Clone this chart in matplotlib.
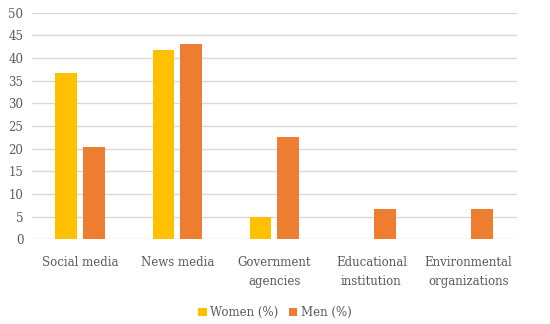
import matplotlib
matplotlib.use("Agg")
import matplotlib.pyplot as plt
import numpy as np

matplotlib.rcParams["font.family"] = "serif"
matplotlib.rcParams["font.serif"] = ["DejaVu Serif"]

categories = ["Social media", "News media", "Government\nagencies",
              "Educational\ninstitution", "Environmental\norganizations"]
women = [36.6, 41.7, 5.0, 0, 0]
men = [20.4, 43.2, 22.6, 6.7, 6.7]
yticks = [0, 5, 10, 15, 20, 25, 30, 35, 40, 45, 50]

text_color = "#595959"

fig = plt.figure(figsize=(5.5, 3.24), dpi=100)
ax = fig.add_axes([0.0576, 0.2614, 0.8824, 0.6994])

x = np.arange(len(categories))
w = 0.224
off = 0.143
ax.bar(x - off, women, w, color="#FFC000", label="Women (%)", zorder=3)
ax.bar(x + off, men, w, color="#ED7D31", label="Men (%)", zorder=3)

ax.set_xlim(-0.5, len(categories) - 0.5)
ax.set_ylim(0, 50)
ax.set_yticks(yticks)
ax.set_xticks(x)
ax.set_xticklabels(categories, linespacing=1.6)
ax.yaxis.grid(True, color="#D9D9D9", linewidth=1, zorder=0)
ax.set_axisbelow(True)
for s in ax.spines.values():
    s.set_visible(False)
ax.tick_params(axis="both", length=0, colors=text_color, labelsize=8.5)
ax.tick_params(axis="x", pad=12)
ax.tick_params(axis="y", pad=6)

fig.legend(loc="center", bbox_to_anchor=(0.5, 0.035), ncol=2, frameon=False,
           fontsize=8.5, labelcolor=text_color, handlelength=0.7, handleheight=0.7,
           handletextpad=0.3, columnspacing=0.9)

fig.savefig("out.png", dpi=100)
